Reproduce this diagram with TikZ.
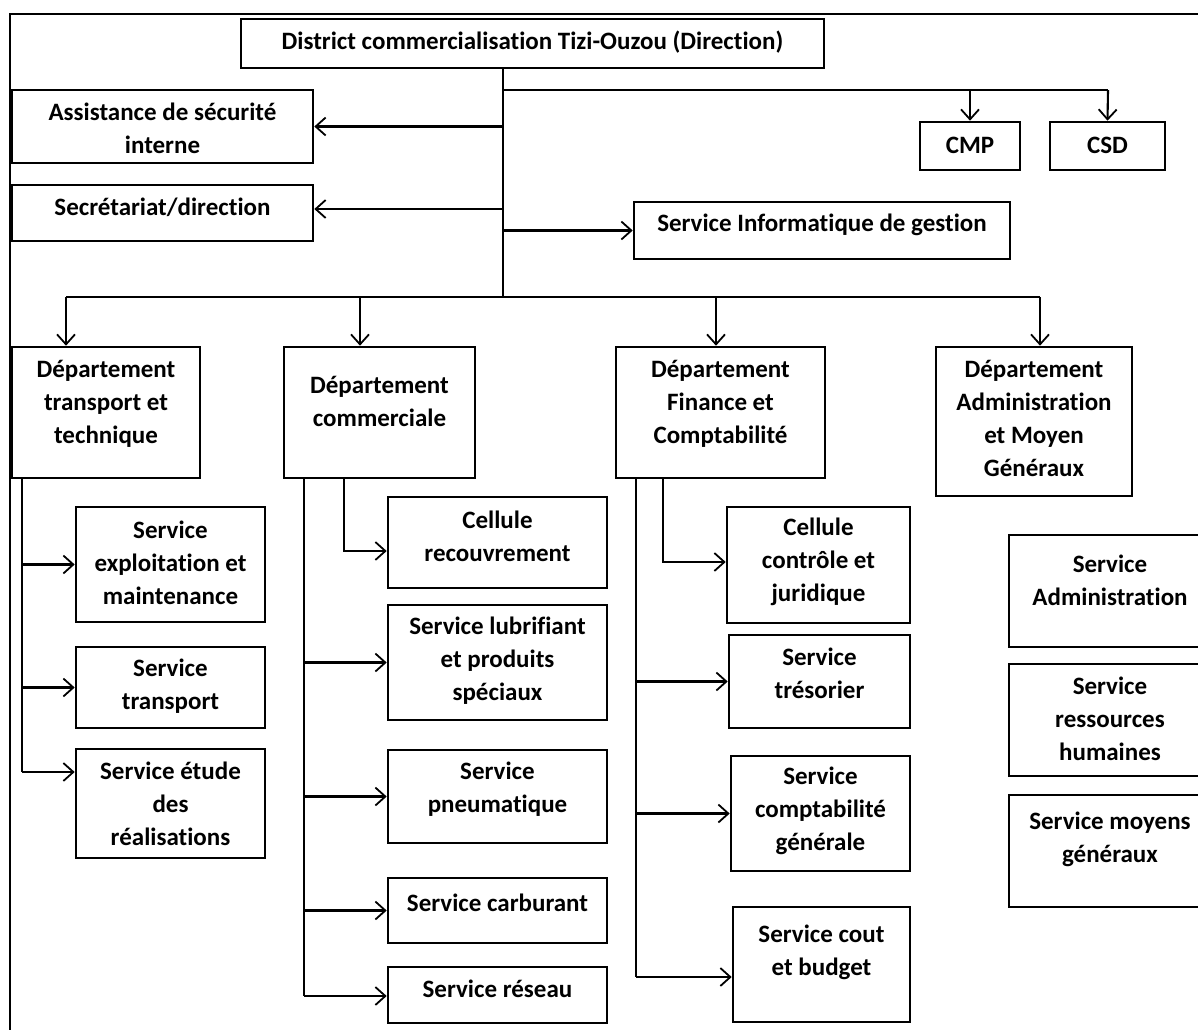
\documentclass[tikz,border=0pt]{standalone}
\usepackage{fontspec}
\setmainfont{Carlito}[Ligatures={NoCommon,NoContextual,NoRequired},Contextuals=NoAlternate]
\usetikzlibrary{arrows.meta,calc}
\tikzset{
 boxs/.style={draw, line width=2.6pt, inner sep=0pt, rectangle},
 txt/.style={align=center, inner sep=0pt, font=\fontsize{25}{33}\selectfont\bfseries},
 conn/.style={line width=2.1pt},
 arr/.style={conn, -{Straight Barb[length=10pt,width=18pt,line width=1.8pt]}},
}
\newcommand\orgbox[7]{%
 \node[boxs, minimum width={(#4-#2)*1pt}, minimum height={(#5-#3)*1pt}] (#1) at ({(#2+#4)/2},{(#3+#5)/2}) {};
 \node[txt] (#1t) at ([yshift=#6pt]#1.center) {#7};}
\begin{document}
\begin{tikzpicture}[x=1pt,y=-1pt]
\useasboundingbox (0,0) rectangle (1198,1029);
\clip (0,0) rectangle (1198,1029);
\fill[white] (0,0) rectangle (1198,1029);
% outer frame
\draw[line width=2.2pt] (10,1040) -- (10,14) -- (1210,14);
% boxes
\orgbox{dir}{241}{19}{824}{68}{1}{District commercialisation Tizi-Ouzou (Direction)}
\orgbox{asst}{12}{90}{313}{163}{-2}{Assistance de sécurité\\interne}
\orgbox{sec}{12}{185}{313}{241}{6}{Secrétariat/direction}
\orgbox{cmp}{920}{122}{1020}{170}{1}{CMP}
\orgbox{csd}{1050}{122}{1165}{170}{1}{CSD}
\orgbox{info}{634}{202}{1010}{259}{6}{Service Informatique de gestion}
\orgbox{d1}{12}{347}{200}{478}{9}{Département\\transport et\\technique}
\orgbox{d2}{284}{347}{475}{478}{11}{Département\\commerciale}
\orgbox{d3}{616}{347}{825}{478}{9}{Département\\Finance et\\Comptabilité}
\orgbox{d4}{936}{347}{1132}{496}{3}{Département\\Administration\\et Moyen\\Généraux}
\orgbox{s11}{76}{507}{265}{622}{2}{Service\\exploitation et\\maintenance}
\orgbox{s12}{76}{647}{265}{728}{1}{Service\\transport}
\orgbox{s13}{76}{749}{265}{858}{0}{Service étude\\des\\réalisations}
\orgbox{s21}{388}{497}{607}{588}{6}{Cellule\\recouvrement}
\orgbox{s22}{388}{605}{607}{720}{2}{Service lubrifiant\\et produits\\spéciaux}
\orgbox{s23}{388}{750}{607}{843}{7}{Service\\pneumatique}
\orgbox{s24}{388}{878}{607}{943}{8}{Service carburant}
\orgbox{s25}{388}{967}{607}{1023}{6}{Service réseau}
\orgbox{s31}{727}{507}{910}{623}{3}{Cellule\\contrôle et\\juridique}
\orgbox{s32}{729}{635}{910}{728}{8}{Service\\trésorier}
\orgbox{s33}{731}{756}{910}{871}{3}{Service\\comptabilité\\générale}
\orgbox{s34}{733}{907}{910}{1022}{12}{Service cout\\et budget}
\orgbox{s41}{1009}{535}{1211}{647}{11}{Service\\Administration}
\orgbox{s42}{1009}{664}{1211}{776}{1}{Service\\ressources\\humaines}
\orgbox{s43}{1009}{795}{1211}{907}{12}{Service moyens\\généraux}
% trunk
\coordinate (tr) at (503,297);
\coordinate (tb) at (1108,90);
\draw[conn] (tr |- dir.south) -- (tr);
\draw[conn] (tr |- tb) -- (tb);
\draw[arr] (cmp.north |- tb) -- (cmp.north);
\draw[arr] (tb) -- (csd.north);
\draw[arr] (tr |- asst.east) -- (asst.east);
\coordinate (se) at (503,209);
\draw[arr] (se) -- (se -| sec.east);
\draw[arr] (tr |- info.west) -- (info.west);
% bus to departments
\coordinate (b1) at (66,297);
\coordinate (b2) at (360,297);
\coordinate (b3) at (716,297);
\coordinate (b4) at (1040,297);
\draw[conn] (b1) -- (b4);
\draw[arr] (b1) -- (b1 |- d1.north);
\draw[arr] (b2) -- (b2 |- d2.north);
\draw[arr] (b3) -- (b3 |- d3.north);
\draw[arr] (b4) -- (b4 |- d4.north);
% transport
\coordinate (v1) at (22,772);
\draw[conn] (v1 |- d1.south) -- (v1);
\draw[arr] (v1 |- s11.west) -- (s11.west);
\draw[arr] (v1 |- s12.west) -- (s12.west);
\draw[arr] (v1) -- (v1 -| s13.west);
% commerciale
\coordinate (v2) at (304,996);
\coordinate (c2) at (344,551);
\draw[conn] (v2 |- d2.south) -- (v2);
\draw[arr] (c2 |- d2.south) -- (c2) -- (c2 -| s21.west);
\draw[arr] (v2 |- s22.west) -- (s22.west);
\draw[arr] (v2 |- s23.west) -- (s23.west);
\draw[arr] (v2 |- s24.west) -- (s24.west);
\draw[arr] (v2) -- (v2 -| s25.west);
% finance
\coordinate (v3) at (636,977);
\coordinate (c3) at (663,562);
\draw[conn] (v3 |- d3.south) -- (v3);
\draw[arr] (c3 |- d3.south) -- (c3) -- (c3 -| s31.west);
\draw[arr] (v3 |- s32.west) -- (s32.west);
\draw[arr] (v3 |- s33.west) -- (s33.west);
\draw[arr] (v3) -- (v3 -| s34.west);
\end{tikzpicture}
\end{document}
